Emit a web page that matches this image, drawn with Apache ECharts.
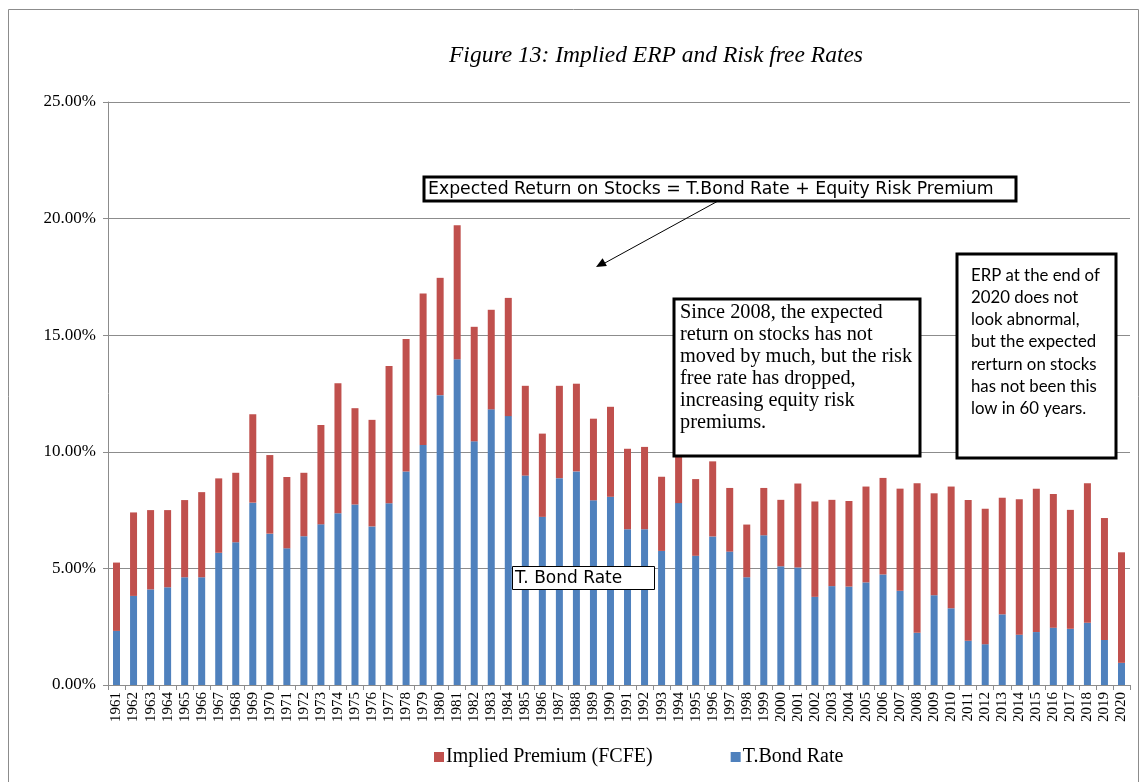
<!DOCTYPE html>
<html>
<head>
<meta charset="utf-8">
<script src="https://cdn.jsdelivr.net/npm/echarts@6/dist/echarts.min.js"></script>
<style>
html,body{margin:0;padding:0;background:#fff;}
#chart{width:1146px;height:782px;}
</style>
</head>
<body>
<div id="chart"></div>
<script>
const years = ['1961','1962','1963','1964','1965','1966','1967','1968','1969','1970',
'1971','1972','1973','1974','1975','1976','1977','1978','1979','1980',
'1981','1982','1983','1984','1985','1986','1987','1988','1989','1990',
'1991','1992','1993','1994','1995','1996','1997','1998','1999','2000',
'2001','2002','2003','2004','2005','2006','2007','2008','2009','2010',
'2011','2012','2013','2014','2015','2016','2017','2018','2019','2020'];

const tBondRate = [2.32,3.82,4.10,4.19,4.62,4.62,5.67,6.12,7.82,6.49,
5.86,6.38,6.89,7.36,7.74,6.80,7.79,9.16,10.29,12.43,
13.97,10.45,11.82,11.53,8.98,7.21,8.87,9.16,7.92,8.07,
6.68,6.68,5.75,7.80,5.54,6.37,5.72,4.62,6.42,5.09,
5.04,3.78,4.24,4.22,4.40,4.74,4.04,2.24,3.85,3.29,
1.90,1.75,3.03,2.16,2.27,2.46,2.41,2.67,1.93,0.95];

const impliedPremium = [2.93,3.58,3.40,3.31,3.31,3.65,3.19,2.98,3.79,3.37,
3.06,2.72,4.26,5.58,4.13,4.57,5.89,5.68,6.50,5.03,
5.74,4.91,4.27,5.07,3.85,3.57,3.96,3.76,3.50,3.86,
3.45,3.53,3.18,3.60,3.29,3.22,2.73,2.26,2.03,2.85,
3.60,4.09,3.70,3.67,4.11,4.14,4.38,6.41,4.37,5.22,
6.03,5.81,5.00,5.81,6.15,5.73,5.10,5.98,5.23,4.74];

const yTicks = {min: 0, max: 25, interval: 5};
const seriesNames = ['Implied Premium (FCFE)', 'T.Bond Rate'];
const titleText = 'Figure 13: Implied ERP and Risk free Rates';
const noteTop = 'Expected Return on Stocks = T.Bond Rate + Equity Risk Premium';
const noteMid = 'Since 2008, the expected\nreturn on stocks has not\nmoved by much, but the risk\nfree rate has dropped,\nincreasing equity risk\npremiums.';
const noteRight = 'ERP at the end of\n2020 does not\nlook abnormal,\nbut the expected\nrerturn on stocks\nhas not been this\nlow in 60 years.';
const noteBond = 'T. Bond Rate';

const serif = '"Liberation Serif", "Times New Roman", serif';
const chart = echarts.init(document.getElementById('chart'));

const option = {
  animation: false,
  backgroundColor: '#fff',
  grid: {left: 108, right: 16, top: 102, bottom: 97, containLabel: false},
  legend: {
    data: seriesNames,
    left: 429, top: 742,
    itemWidth: 10, itemHeight: 10, itemGap: 78,
    icon: 'rect',
    textStyle: {fontFamily: serif, fontSize: 20, color: '#000', padding: [0,0,0,-3]}
  },
  xAxis: {
    type: 'category',
    data: years,
    axisLine: {lineStyle: {color: '#8c8c8c', width: 1}},
    axisTick: {show: true, alignWithLabel: false, length: 5, lineStyle: {color: '#8c8c8c'}},
    axisLabel: {rotate: 90, interval: 0, margin: 7, fontFamily: serif, fontSize: 15, color: '#000'}
  },
  yAxis: {
    type: 'value',
    min: yTicks.min, max: yTicks.max, interval: yTicks.interval,
    axisLine: {show: true, lineStyle: {color: '#8c8c8c'}},
    axisTick: {show: true, length: 5, lineStyle: {color: '#8c8c8c'}},
    splitLine: {show: true, lineStyle: {color: '#8c8c8c', width: 1}},
    axisLabel: {margin: 12, fontFamily: serif, fontSize: 17, color: '#000',
      formatter: v => v.toFixed(2) + '%'}
  },
  series: [
    {name: seriesNames[1], type: 'bar', stack: 'total', data: tBondRate, barWidth: 7,
     itemStyle: {color: '#4F81BD'}},
    {name: seriesNames[0], type: 'bar', stack: 'total', data: impliedPremium, barWidth: 7,
     itemStyle: {color: '#C0504D'}}
  ],
  graphic: [
    {type: 'rect', z: -10, silent: true, shape: {x: 8.5, y: 9.5, width: 1130, height: 800},
     style: {fill: 'none', stroke: '#8c8c8c', lineWidth: 1}},
    {type: 'text', z: 100, style: {text: titleText, x: 656, y: 56, textAlign: 'center', textVerticalAlign: 'middle',
      font: 'italic 23.5px "Liberation Serif"', fill: '#000'}},
    {type: 'rect', z: 100, shape: {x: 424, y: 177, width: 592, height: 24},
     style: {fill: '#fff', stroke: '#000', lineWidth: 3}},
    {type: 'text', z: 101, style: {text: noteTop, x: 428, y: 189.5, textVerticalAlign: 'middle',
      font: '17.3px "DejaVu Sans"', fill: '#000'}},
    {type: 'line', z: 100, shape: {x1: 718, y1: 201, x2: 603, y2: 264},
     style: {stroke: '#000', lineWidth: 1}},
    {type: 'polygon', z: 100, shape: {points: [[596,267],[606.9,266.1],[602.6,258.3]]},
     style: {fill: '#000'}},
    {type: 'rect', z: 100, shape: {x: 674, y: 299, width: 246, height: 157},
     style: {fill: '#fff', stroke: '#000', lineWidth: 3}},
    {type: 'text', z: 101, style: {text: noteMid, x: 680, y: 302, textVerticalAlign: 'top',
      font: '20.3px "Liberation Serif"', lineHeight: 22, fill: '#000'}},
    {type: 'rect', z: 100, shape: {x: 957, y: 254, width: 159, height: 204},
     style: {fill: '#fff', stroke: '#000', lineWidth: 3}},
    {type: 'text', z: 101, style: {text: noteRight, x: 971, y: 264, textVerticalAlign: 'top',
      font: '16.8px Lato', lineHeight: 22.3, fill: '#000'}},
    {type: 'rect', z: 100, shape: {x: 512.5, y: 566.5, width: 142, height: 23},
     style: {fill: '#fff', stroke: '#000', lineWidth: 1}},
    {type: 'text', z: 101, style: {text: noteBond, x: 515, y: 578.5, textVerticalAlign: 'middle',
      font: '17px "DejaVu Sans"', fill: '#000'}}
  ]
};
chart.setOption(option);
</script>
</body>
</html>
